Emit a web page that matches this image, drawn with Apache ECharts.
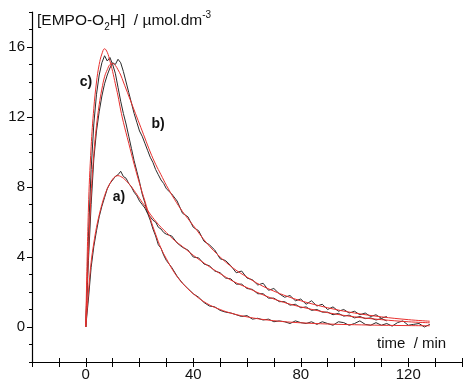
<!DOCTYPE html>
<html><head><meta charset="utf-8">
<script src="https://cdn.jsdelivr.net/npm/echarts@6/dist/echarts.min.js"></script>
<style>html,body{margin:0;padding:0;background:#fff}#c{width:463px;height:383px}</style>
</head><body><div id="c"></div>
<script>
// ---- data ----
const xLabels = [0, 40, 80, 120];
const xTicks = [-20, -10, 0, 10, 20, 30, 40, 50, 60, 70, 80, 90, 100, 110, 120, 130, 140];
const yLabels = [0, 4, 8, 12, 16];
const yMinorTicks = [-2, -1, 0, 1, 2, 3, 4, 5, 6, 7, 8, 9, 10, 11, 12, 13, 14, 15, 16, 17, 18];
const curveNames = ['a)', 'b)', 'c)'];

// measured (noisy) traces
const tData = [0,1,2,3,4,5,6,7,8,9,10,11,12,13,14,15,16,17,18,19,20,21,22,23,24,25,26,27,28,29,30,
  32,34,36,38,40,42,44,46,48,50,52,54,56,58,60,62,64,66,68,70,72,74,76,78,80,82,84,86,88,90,
  92,94,96,98,100,102,104,106,108,110,112,114,116,118,120,122,124,126,128];
const dataA = [0,1.6,3.4,4.6,5.5,6.3,6.9,7.4,7.9,8.2,8.4,8.6,8.7,8.9,8.6,8.5,8.2,8.0,7.7,7.5,7.2,7.0,6.8,6.5,6.3,6.1,6.0,5.7,5.6,5.4,5.3,
  5.2,4.8,4.55,4.4,4.0,3.95,3.6,3.5,3.2,3.1,2.8,2.75,2.45,2.45,2.2,2.15,1.9,1.9,1.65,1.65,1.45,1.45,1.25,1.3,1.1,1.15,0.95,1.0,0.85,0.85,
  0.7,0.78,0.62,0.68,0.52,0.6,0.48,0.52,0.4,0.48,0.35];
const dataB = [0,3.8,7.0,9.6,11.2,12.3,13.2,13.9,14.4,14.8,15.1,15.0,15.3,15.1,14.6,14.0,13.4,12.8,12.2,11.7,11.2,10.9,10.5,10.1,9.7,9.4,9.0,8.7,8.4,8.2,7.9,
  7.6,7.2,6.5,6.3,5.7,5.5,4.9,4.7,4.4,3.9,3.8,3.5,3.1,3.2,2.8,2.7,2.4,2.5,2.1,2.2,1.9,1.7,1.8,1.5,1.6,1.3,1.5,1.2,1.3,1.0,
  1.15,0.9,1.0,0.8,0.9,0.7,0.8,0.6,0.7,0.5,0.6];
const dataC = [0,5.2,9.0,11.6,13.3,14.4,15.1,15.5,15.2,15.4,15.0,14.5,13.7,12.9,12.2,11.6,10.9,10.2,9.5,8.9,8.3,7.6,7.1,6.5,6.1,5.6,5.2,4.7,4.5,4.1,3.8,
  3.4,2.9,2.5,2.2,1.9,1.7,1.4,1.2,1.15,0.95,0.85,0.8,0.7,0.6,0.65,0.45,0.5,0.4,0.45,0.3,0.35,0.3,0.2,0.35,0.25,0.2,0.3,0.15,0.3,0.2,
  0.1,0.3,0.25,0.1,0.2,0.35,0.15,0.1,0.25,0.1,0.2,0.05,0.25,0.35,0.1,0.15,0.2,0.0,0.15];

// fitted curves
const tFit = [0,1,2,3,4,5,6,7,8,9,10,11,12,13,14,16,18,20,22,24,26,28,30,33,36,40,45,50,55,60,65,70,75,80,90,100,110,120,128];
const fitA = [0,2.0,3.7,4.8,5.7,6.4,7.0,7.5,7.9,8.2,8.45,8.6,8.65,8.6,8.5,8.2,7.8,7.35,6.9,6.45,6.05,5.7,5.4,4.95,4.6,4.1,3.55,3.05,2.6,2.25,1.9,1.6,1.35,1.15,0.82,0.58,0.42,0.3,0.24];
const fitB = [0,4.2,7.6,9.9,11.5,12.7,13.6,14.3,14.7,15.0,15.05,14.95,14.7,14.4,14.0,13.2,12.4,11.6,10.8,10.0,9.3,8.7,8.1,7.3,6.6,5.8,4.8,4.0,3.35,2.85,2.4,2.05,1.75,1.5,1.1,0.8,0.58,0.42,0.33];
const fitC = [0,6.8,10.3,12.5,14.0,15.0,15.6,15.9,15.7,15.2,14.6,13.9,13.2,12.4,11.7,10.5,9.3,8.2,7.2,6.2,5.3,4.5,3.9,3.1,2.5,1.9,1.35,1.0,0.75,0.58,0.45,0.36,0.29,0.24,0.17,0.13,0.1,0.08,0.07];

// ---- chart ----
const pairs = (t, v) => v.map((y, i) => [t[i], y]);
const FONT = '"Liberation Sans", Arial, sans-serif';
const chart = echarts.init(document.getElementById('c'), null, {renderer: 'canvas'});

function dataLine(t, v) {
  return {type: 'line', data: pairs(t, v), showSymbol: false, smooth: false,
    lineStyle: {color: '#2a2a2a', width: 1}, z: 2, silent: true};
}
function fitLine(t, v) {
  return {type: 'line', data: pairs(t, v), showSymbol: false, smooth: 0.4,
    lineStyle: {color: '#e8302e', width: 1}, z: 3, silent: true};
}

const axisCommon = {type: 'value', splitLine: {show: false}};
const option = {
  animation: false,
  grid: {left: 32, right: 1, top: 12, bottom: 21},
  xAxis: [
    Object.assign({}, axisCommon, {min: -20, max: 140, position: 'bottom',
      axisLine: {onZero: false, lineStyle: {color: '#000', width: 1.2}},
      axisTick: {customValues: xTicks, length: 5, lineStyle: {color: '#000', width: 1}},
      axisLabel: {customValues: xLabels, margin: 5, fontSize: 15, color: '#111', fontFamily: FONT}}),
    Object.assign({}, axisCommon, {min: -20, max: 140, position: 'bottom',
      axisLine: {show: false, onZero: false},
      axisTick: {customValues: xTicks, inside: true, length: 4, lineStyle: {color: '#000', width: 1}},
      axisLabel: {show: false}})
  ],
  yAxis: [
    Object.assign({}, axisCommon, {min: -2, max: 18, position: 'left',
      axisLine: {onZero: false, lineStyle: {color: '#000', width: 1.2}},
      axisTick: {customValues: yLabels, length: 5, lineStyle: {color: '#000', width: 1}},
      axisLabel: {customValues: yLabels, margin: 7, fontSize: 15, color: '#111', fontFamily: FONT}}),
    Object.assign({}, axisCommon, {min: -2, max: 18, position: 'left',
      axisLine: {show: false, onZero: false},
      axisTick: {customValues: yMinorTicks, length: 3, lineStyle: {color: '#000', width: 1}},
      axisLabel: {show: false}})
  ],
  series: [
    dataLine(tData, dataA), dataLine(tData, dataB), dataLine(tData, dataC),
    fitLine(tFit, fitA), fitLine(tFit, fitB), fitLine(tFit, fitC)
  ],
  graphic: [
    {type: 'text', left: 37, top: 10, z: 10, style: {
      text: '{n|[EMPO-O}{s|2}{n|H]  / µmol.dm}{p|-3}',
      rich: {
        n: {fontSize: 15.5, fontFamily: FONT, fill: '#111', lineHeight: 22, verticalAlign: 'middle'},
        s: {fontSize: 10, fontFamily: FONT, fill: '#111', lineHeight: 22, verticalAlign: 'bottom'},
        p: {fontSize: 10, fontFamily: FONT, fill: '#111', lineHeight: 22, verticalAlign: 'top'}
      }}},
    {type: 'text', left: 377, top: 336, z: 10, style: {text: 'time  / min', fontSize: 15, fontFamily: FONT, fill: '#111'}},
    {type: 'text', x: 119, y: 197, z: 10, style: {text: curveNames[0], fontSize: 14, fontWeight: 'bold', fontFamily: FONT, fill: '#111', align: 'center', verticalAlign: 'middle'}},
    {type: 'text', x: 158, y: 124, z: 10, style: {text: curveNames[1], fontSize: 14, fontWeight: 'bold', fontFamily: FONT, fill: '#111', align: 'center', verticalAlign: 'middle'}},
    {type: 'text', x: 86, y: 82, z: 10, style: {text: curveNames[2], fontSize: 14, fontWeight: 'bold', fontFamily: FONT, fill: '#111', align: 'center', verticalAlign: 'middle'}}
  ]
};
chart.setOption(option);
</script></body></html>
